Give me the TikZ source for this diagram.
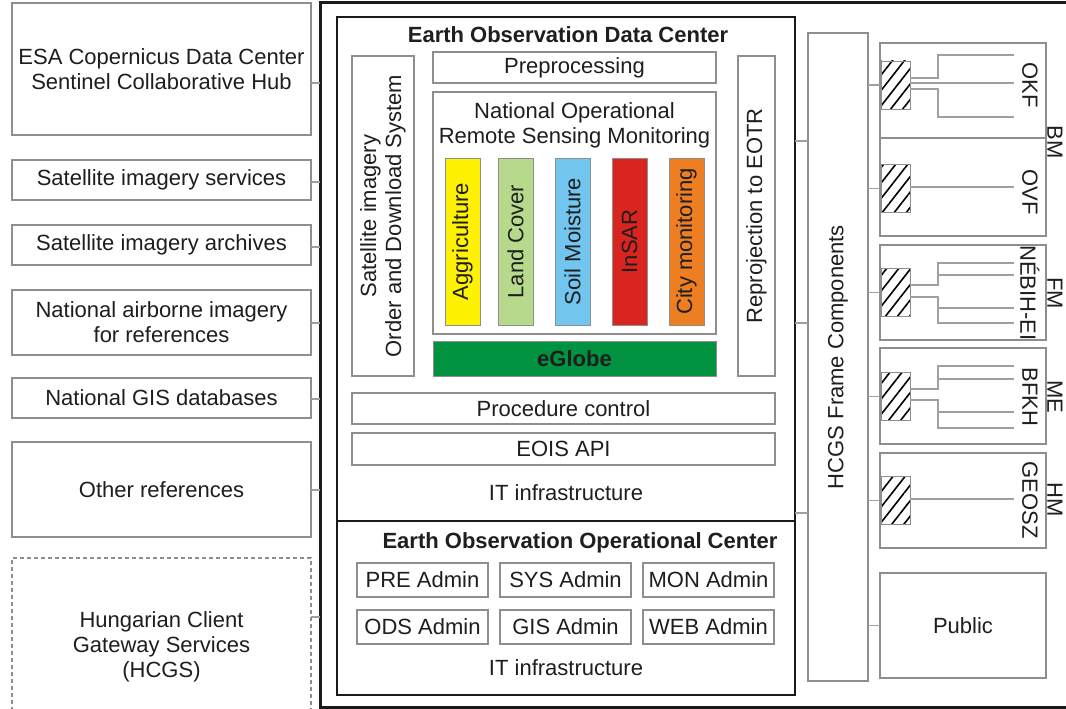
\documentclass[tikz,border=0pt]{standalone}
\usepackage{fontspec}
\setmainfont{Liberation Sans}
\usetikzlibrary{patterns.meta}
\definecolor{txt}{HTML}{1E1E1E}
\definecolor{bx}{HTML}{8E8E8E}
\definecolor{cn}{HTML}{A0A0A0}
\definecolor{frk}{HTML}{1A1A1A}
\definecolor{cyel}{HTML}{FFF200}
\definecolor{cland}{HTML}{B6D98B}
\definecolor{csoil}{HTML}{72C5EE}
\definecolor{cinsar}{HTML}{DA2420}
\definecolor{ccity}{HTML}{EE7E22}
\definecolor{cglobe}{HTML}{00923F}
\newcommand\myfs{\fontsize{22}{25}\selectfont}
\begin{document}
\begin{tikzpicture}[x=1pt,y=-1pt,
  every node/.style={inner sep=0pt, outer sep=0pt, text=txt, font=\myfs, align=center},
  gbox/.style={draw=bx, line width=1.2pt, fill=white, rectangle},
  dbox/.style={draw=bx, line width=1.2pt, dashed, dash pattern=on 4pt off 3pt, rectangle},
  mainbox/.style={draw=frk, line width=2pt, rectangle},
  frame/.style={draw=frk, line width=3pt, rectangle},
  bar/.style={draw=bx, line width=1pt, rectangle, minimum width=35, minimum height=167},
  hatch/.style={draw=bx, line width=0.8pt, rectangle, minimum width=29, minimum height=48,
    pattern={Lines[angle=52,distance=9.5pt,line width=1.6pt]}, pattern color=black},
  conn/.style={draw=cn, line width=1.1pt},
  ttl/.style={font=\myfs\bfseries},
  vt/.style={rotate=90},
  rt/.style={rotate=-90}]
\useasboundingbox (0,0) rectangle (1066,709);

% outer frame
\node[frame, minimum width=780, minimum height=704] (frame) at (710,355) {};

% left column
\node[gbox, minimum width=299, minimum height=132] (esa) at (161.5,69) {ESA Copernicus Data Center\\Sentinel Collaborative Hub};
\node[gbox, minimum width=299, minimum height=40] (sis) at (161.5,180) {Satellite imagery services};
\node[gbox, minimum width=299, minimum height=40] (sia) at (161.5,245) {Satellite imagery archives};
\node[gbox, minimum width=299, minimum height=65] (nai) at (161.5,322.5) {National airborne imagery\\for references};
\node[gbox, minimum width=299, minimum height=40] (ngis) at (161.5,398) {National GIS databases};
\node[gbox, minimum width=299, minimum height=95] (oth) at (161.5,489.5) {Other references};
\node[dbox, minimum width=299, minimum height=177] (hcgs) at (161.5,646.5) {Hungarian Client\\Gateway Services\\(HCGS)};

\draw[conn] (esa.east |- 0,83) -- (frame.west |- 0,83);
\draw[conn] (sis.east |- 0,182) -- (frame.west |- 0,182);
\draw[conn] (sia.east |- 0,247) -- (frame.west |- 0,247);
\draw[conn] (nai.east |- 0,323) -- (frame.west |- 0,323);
\draw[conn] (ngis.east |- 0,399) -- (frame.west |- 0,399);
\draw[conn] (oth.east |- 0,490) -- (frame.west |- 0,490);
\draw[conn] (hcgs.east |- 0,617) -- (frame.west |- 0,617);

% EODC
\node[mainbox, minimum width=458, minimum height=504] (eodc) at (566,269) {};
\node[ttl] (eodct) at (568,35) {Earth Observation Data Center};
\node[gbox, minimum width=62, minimum height=320] (sat) at (383,216) {};
\node[vt] (satt) at (sat.center) {Satellite imagery\\Order and Download System};
\node[gbox, minimum width=283, minimum height=31] (pre) at (574.5,67.5) {Preprocessing};
\node[gbox, minimum width=283, minimum height=242] (nor) at (574.5,213) {};
\node (nort) at (574.5,125.5) {National Operational\\Remote Sensing Monitoring};
\node[bar, fill=cyel] (b1) at (462.5,241.5) {};
\node[vt] (b1t) at (b1.center) {Aggriculture};
\node[bar, fill=cland] (b2) at (515.5,241.5) {};
\node[vt] (b2t) at (b2.center) {Land Cover};
\node[bar, fill=csoil] (b3) at (572.5,241.5) {};
\node[vt] (b3t) at (b3.center) {Soil Moisture};
\node[bar, fill=cinsar] (b4) at (629.5,241.5) {};
\node[vt] (b4t) at (b4.center) {InSAR};
\node[bar, fill=ccity] (b5) at (686.5,241.5) {};
\node[vt] (b5t) at (b5.center) {City monitoring};
\node[draw=bx, line width=1pt, fill=cglobe, minimum width=283, minimum height=35, font=\myfs\bfseries] (glb) at (574.5,358.5) {eGlobe};
\node[gbox, minimum width=37, minimum height=320] (rep) at (756.5,216) {};
\node[vt] (rept) at (rep.center) {Reprojection to EOTR};
\node[gbox, minimum width=423, minimum height=31] (proc) at (563.5,408.5) {Procedure control};
\node[gbox, minimum width=423, minimum height=32] (api) at (563.5,449) {EOIS API};
\node (it1) at (566,493) {IT infrastructure};

% EOOC
\node[mainbox, minimum width=458, minimum height=174] (eooc) at (566,608) {};
\node[ttl] (eooct) at (580,543) {Earth Observation Operational Center};
\node[gbox, minimum width=131, minimum height=34] (a1) at (422.5,580) {PRE Admin};
\node[gbox, minimum width=131, minimum height=34] (a2) at (565.5,580) {SYS Admin};
\node[gbox, minimum width=131, minimum height=34] (a3) at (708.5,580) {MON Admin};
\node[gbox, minimum width=131, minimum height=34] (a4) at (422.5,627) {ODS Admin};
\node[gbox, minimum width=131, minimum height=34] (a5) at (565.5,627) {GIS Admin};
\node[gbox, minimum width=131, minimum height=34] (a6) at (708.5,627) {WEB Admin};
\node (it2) at (566,668) {IT infrastructure};

% HCGS frame components
\node[gbox, minimum width=60, minimum height=648] (hf) at (838,357) {};
\node[vt] (hft) at (hf.center) {HCGS Frame Components};
\draw[conn] (eodc.east |- 0,141) -- (hf.west |- 0,141);
\draw[conn] (eodc.east |- 0,323) -- (hf.west |- 0,323);
\draw[conn] (eodc.east |- 0,513) -- (hf.west |- 0,513);

% right column boxes
\node[gbox, minimum width=166, minimum height=95] (okf) at (963,90.5) {};
\node[gbox, minimum width=166, minimum height=98] (ovf) at (963,187) {};
\node[gbox, minimum width=166, minimum height=95] (fm) at (963,292.5) {};
\node[gbox, minimum width=166, minimum height=96] (me) at (963,396) {};
\node[gbox, minimum width=166, minimum height=95] (hm) at (963,500.5) {};
\node[gbox, minimum width=166, minimum height=105] (pub) at (963,625.5) {Public};

\node[hatch] (h1) at (895.5,85) {};
\node[hatch] (h2) at (895.5,188.5) {};
\node[hatch] (h3) at (895.5,292.5) {};
\node[hatch] (h4) at (895.5,396.5) {};
\node[hatch] (h5) at (895.5,500.5) {};

\draw[conn] (hf.east |- h1) -- (okf.west |- h1);
\draw[conn] (hf.east |- h2) -- (ovf.west |- h2);
\draw[conn] (hf.east |- h3) -- (fm.west |- h3);
\draw[conn] (hf.east |- h4) -- (me.west |- h4);
\draw[conn] (hf.east |- h5) -- (hm.west |- h5);
\draw[conn] (hf.east |- pub) -- (pub.west);

% internal lines
\draw[conn] (h1.east |- 0,78) -- (938,78) -- (938,55) -- (1014,55);
\draw[conn] (h1.east |- 0,83) -- (1014,83);
\draw[conn] (h1.east |- 0,89) -- (938,89) -- (938,117) -- (1014,117);
\draw[conn] (h2.east |- 0,187) -- (1014,187);
\draw[conn] (h3.east |- 0,285) -- (938,285) -- (938,263) -- (1014,263);
\draw[conn] (938,275) -- (1014,275);
\draw[conn] (h3.east |- 0,297) -- (938,297) -- (938,323) -- (1014,323);
\draw[conn] (938,308) -- (1014,308);
\draw[conn] (h4.east |- 0,389) -- (938,389) -- (938,366) -- (1014,366);
\draw[conn] (938,379) -- (1014,379);
\draw[conn] (h4.east |- 0,400) -- (938,400) -- (938,428) -- (1014,428);
\draw[conn] (938,412) -- (1014,412);
\draw[conn] (h5.east |- 0,499) -- (1014,499);

% labels
\node[rt] (lokf) at (1030,85) {OKF};
\node[rt] (lovf) at (1030,192) {OVF};
\node[rt] (lneb) at (1030,293) {NÉBIH-EI};
\node[rt] (lbfkh) at (1030,397) {BFKH};
\node[rt] (lgeosz) at (1030,500) {GEOSZ};
\node[rt] (gbm) at (1055,142) {BM};
\node[rt] (gfm) at (1055,293) {FM};
\node[rt] (gme) at (1055,397) {ME};
\node[rt] (ghm) at (1055,500) {HM};
\end{tikzpicture}
\end{document}
